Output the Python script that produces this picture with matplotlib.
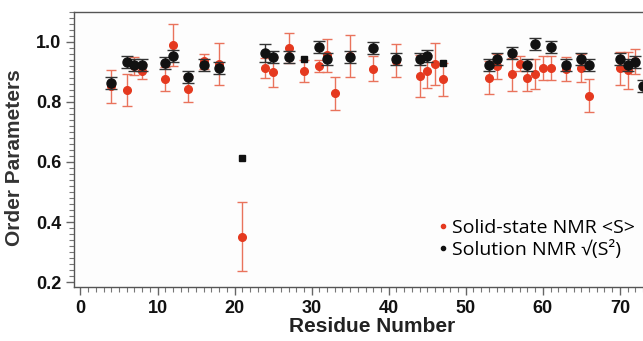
import matplotlib
matplotlib.use("Agg")
import matplotlib.pyplot as plt
from matplotlib.ticker import MultipleLocator
from matplotlib.lines import Line2D

# Solid-state NMR <S>
solid_res = [4, 6, 7, 8, 11, 12, 14, 16, 18, 21, 24, 25, 27, 29, 31, 32, 33, 35, 38,
             41, 44, 45, 46, 47, 53, 54, 56, 57, 58, 59, 60, 61, 63, 65, 66, 70, 71, 72]
solid_S = [0.853, 0.839, 0.920, 0.903, 0.878, 0.990, 0.844, 0.936, 0.927, 0.351,
           0.912, 0.900, 0.981, 0.903, 0.919, 0.956, 0.829, 0.953, 0.911, 0.937,
           0.888, 0.902, 0.928, 0.875, 0.880, 0.919, 0.892, 0.928, 0.881, 0.892,
           0.912, 0.912, 0.909, 0.912, 0.820, 0.912, 0.905, 0.935]
solid_err = [0.055, 0.053, 0.030, 0.025, 0.040, 0.070, 0.043, 0.025, 0.070, 0.114,
             0.033, 0.050, 0.050, 0.036, 0.020, 0.055, 0.055, 0.070, 0.042, 0.055,
             0.070, 0.055, 0.070, 0.056, 0.055, 0.042, 0.055, 0.025, 0.045, 0.050,
             0.040, 0.040, 0.040, 0.047, 0.055, 0.055, 0.063, 0.043]

# Solution NMR sqrt(S^2)
sol_res = [4, 6, 7, 8, 11, 12, 14, 16, 18, 24, 25, 27, 31, 32, 35, 38, 41, 44, 45,
           53, 54, 56, 58, 59, 61, 63, 65, 66, 70, 71, 72, 73]
sol_S = [0.862, 0.933, 0.923, 0.922, 0.931, 0.952, 0.883, 0.922, 0.914, 0.962,
         0.951, 0.951, 0.983, 0.942, 0.951, 0.981, 0.942, 0.942, 0.953, 0.922,
         0.942, 0.962, 0.922, 0.992, 0.983, 0.922, 0.942, 0.922, 0.942, 0.922,
         0.933, 0.853]
sol_err = [0.02, 0.02, 0.02, 0.02, 0.02, 0.02, 0.02, 0.02, 0.02, 0.03,
           0.02, 0.02, 0.02, 0.02, 0.02, 0.02, 0.02, 0.02, 0.02, 0.02,
           0.02, 0.02, 0.02, 0.02, 0.02, 0.02, 0.02, 0.02, 0.02, 0.02,
           0.02, 0.02]
# solution points drawn as squares, no error bars
sq_res = [21, 29, 47]
sq_S = [0.612, 0.942, 0.931]

red = "#e5391f"
red_err = "#e9735c"
black = "#111111"

fig = plt.figure(figsize=(6.43, 3.41), dpi=100)
ax = fig.add_axes([0.115, 0.158, 0.885, 0.807])
ax.set_facecolor("#fdfdfd")

ax.errorbar(solid_res, solid_S, yerr=solid_err, fmt="o", color=red, ms=5.5,
            ecolor=red_err, elinewidth=1.0, capsize=3.5, capthick=1.0, zorder=2)
ax.errorbar(sol_res, sol_S, yerr=sol_err, fmt="o", color=black, ms=6.5,
            ecolor="#333333", elinewidth=1.0, capsize=4.3, capthick=1.0, zorder=3)
ax.plot(sq_res, sq_S, "s", color=black, ms=5, zorder=3)

ax.set_xlim(-0.85, 73.0)
ax.set_ylim(0.183, 1.10)
ax.xaxis.set_major_locator(MultipleLocator(10))
ax.xaxis.set_minor_locator(MultipleLocator(1))
ax.yaxis.set_major_locator(MultipleLocator(0.2))
ax.yaxis.set_minor_locator(MultipleLocator(0.02))
ax.yaxis.set_major_formatter(lambda v, p: f"{v:.1f}")

ax.spines["right"].set_visible(False)
for s in ["left", "bottom", "top"]:
    ax.spines[s].set_color("#555555")
    ax.spines[s].set_linewidth(1.0)

ax.tick_params(which="major", direction="out", length=6, width=1, color="#666666",
               labelsize=13, pad=3)
ax.tick_params(which="minor", direction="out", length=3.5, width=0.8, color="#777777")
ax.tick_params(axis="x", which="both", top=False)
for lbl in ax.get_xticklabels() + ax.get_yticklabels():
    lbl.set_fontfamily("Liberation Sans")
    lbl.set_fontweight("bold")
    lbl.set_color("#111111")

ax.set_xlabel("Residue Number", fontfamily="Liberation Sans", fontweight="bold",
              fontsize=15, color="#222222")
ax.set_ylabel("Order Parameters", fontfamily="Liberation Sans", fontweight="bold",
              fontsize=15, color="#333333")
ax.xaxis.set_label_coords(0.524, -0.11)
ax.yaxis.set_label_coords(-0.087, 0.47)

handles = [Line2D([], [], marker="o", ls="", color=red, ms=3),
           Line2D([], [], marker="o", ls="", color=black, ms=3)]
ax.legend(handles, ["Solid-state NMR <S>", "Solution NMR \u221a(S\u00b2)"],
          loc="lower right", bbox_to_anchor=(1.0, 0.075), frameon=False,
          prop=dict(family="Open Sans", size=14), handlelength=0.4,
          handletextpad=0.25, labelspacing=0.15, borderaxespad=0.0)

fig.savefig("out.png", dpi=100)
